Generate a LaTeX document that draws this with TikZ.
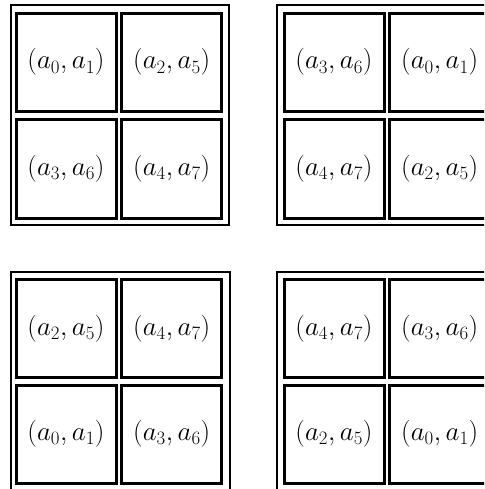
\RequirePackage{fix-cm}
\documentclass[tikz,border=0pt]{standalone}
\usepackage{tikz}
\usetikzlibrary{positioning}

\begin{document}
\begin{tikzpicture}[x=1pt, y=-1pt]
\tikzstyle{cell} = [rectangle, draw=black, line width=3pt, minimum width=100pt, minimum height=98pt, inner sep=0pt, text centered, font=\fontsize{27}{32}\selectfont]
\tikzstyle{frame} = [draw=black, line width=2pt]

\useasboundingbox (0,0) rectangle (484,489);
\clip (0,0) rectangle (484,489);

% Outer frames
\draw [frame] (11,5) rectangle (229,224.5);
\draw [frame] (276.5,5) rectangle (494,224.5);
\draw [frame] (11,271.5) rectangle (229.5,491);
\draw [frame] (276.5,271.5) rectangle (494,491);

% Top left block
\node (tlA) [cell] at (66,62.25) {$(a_0,a_1)$};
\node (tlB) [cell] at (171.75,62.25) {$(a_2,a_5)$};
\node (tlC) [cell] at (66,169) {$(a_3,a_6)$};
\node (tlD) [cell] at (171.75,169) {$(a_4,a_7)$};

% Top right block
\node (trA) [cell] at (334,62.25) {$(a_3,a_6)$};
\node (trB) [cell] at (439.75,62.25) {$(a_0,a_1)$};
\node (trC) [cell] at (334,169) {$(a_4,a_7)$};
\node (trD) [cell] at (439.75,169) {$(a_2,a_5)$};

% Bottom left block
\node (blA) [cell] at (66,328.5) {$(a_2,a_5)$};
\node (blB) [cell] at (171.75,328.5) {$(a_4,a_7)$};
\node (blC) [cell] at (66,434) {$(a_0,a_1)$};
\node (blD) [cell] at (171.75,434) {$(a_3,a_6)$};

% Bottom right block
\node (brA) [cell] at (334,328.5) {$(a_4,a_7)$};
\node (brB) [cell] at (439.75,328.5) {$(a_3,a_6)$};
\node (brC) [cell] at (334,434) {$(a_2,a_5)$};
\node (brD) [cell] at (439.75,434) {$(a_0,a_1)$};
\end{tikzpicture}
\end{document}
